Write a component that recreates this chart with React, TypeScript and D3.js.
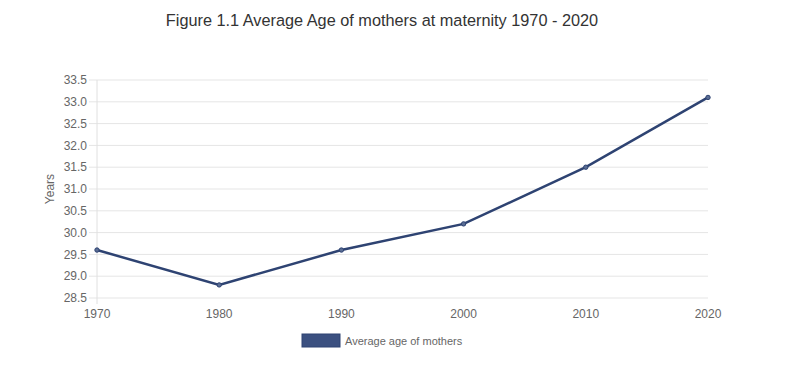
import { useEffect, useRef } from 'react'
import * as d3 from 'd3'

const years = [1970, 1980, 1990, 2000, 2010, 2020]
const avgAge = [29.6, 28.8, 29.6, 30.2, 31.5, 33.1]
const yTicks = [28.5, 29.0, 29.5, 30.0, 30.5, 31.0, 31.5, 32.0, 32.5, 33.0, 33.5]

const title = 'Figure 1.1 Average Age of mothers at maternity 1970 - 2020'
const seriesName = 'Average age of mothers'

export default function App() {
  const svgRef = useRef<SVGSVGElement>(null)
  const width = 800
  const height = 367

  useEffect(() => {
    if (!svgRef.current) return
    const svg = d3.select(svgRef.current)
    svg.selectAll('*').remove()

    const font = 'Arial, "Liberation Sans", sans-serif'
    const left = 97
    const right = 708
    const top = 80
    const bottom = 298
    const lineColor = '#2e4372'

    const x = d3.scalePoint<number>().domain(years).range([left, right])
    const y = d3.scaleLinear().domain([28.5, 33.5]).range([bottom, top])

    // title
    svg.append('text')
      .attr('x', 382).attr('y', 26)
      .attr('text-anchor', 'middle')
      .style('font-family', font)
      .style('font-size', '16.3px')
      .style('fill', '#333')
      .text(title)

    // grid lines
    svg.append('g').selectAll('line')
      .data(yTicks)
      .join('line')
      .attr('x1', left - 8).attr('x2', right)
      .attr('y1', d => y(d)).attr('y2', d => y(d))
      .attr('stroke', '#e5e5e5')
      .attr('stroke-width', 1)

    // left axis line
    svg.append('line')
      .attr('x1', left).attr('x2', left)
      .attr('y1', top).attr('y2', bottom + 6)
      .attr('stroke', '#e0e0e0')

    // y tick labels
    svg.append('g').selectAll('text')
      .data(yTicks)
      .join('text')
      .attr('x', left - 10)
      .attr('y', d => y(d))
      .attr('dy', '0.35em')
      .attr('text-anchor', 'end')
      .style('font-family', font)
      .style('font-size', '12px')
      .style('fill', '#666')
      .text(d => d.toFixed(1))

    // x tick labels
    svg.append('g').selectAll('text')
      .data(years)
      .join('text')
      .attr('x', d => x(d) as number)
      .attr('y', bottom + 20)
      .attr('text-anchor', 'middle')
      .style('font-family', font)
      .style('font-size', '12px')
      .style('fill', '#666')
      .text(d => d)

    // y axis title
    svg.append('text')
      .attr('transform', `translate(54, ${(top + bottom) / 2}) rotate(-90)`)
      .attr('text-anchor', 'middle')
      .style('font-family', font)
      .style('font-size', '12px')
      .style('fill', '#666')
      .text('Years')

    const pts = years.map((yr, i) => [x(yr) as number, y(avgAge[i])] as [number, number])

    svg.append('path')
      .attr('d', d3.line()(pts))
      .attr('fill', 'none')
      .attr('stroke', lineColor)
      .attr('stroke-width', 2.5)

    svg.append('g').selectAll('circle')
      .data(pts)
      .join('circle')
      .attr('cx', d => d[0]).attr('cy', d => d[1])
      .attr('r', 2.2)
      .attr('fill', '#5a6d94')
      .attr('stroke', lineColor)
      .attr('stroke-width', 1)

    // legend
    svg.append('rect')
      .attr('x', 302).attr('y', 334)
      .attr('width', 38).attr('height', 13)
      .attr('fill', '#3b5080')
      .attr('stroke', lineColor)
      .attr('stroke-width', 1)

    svg.append('text')
      .attr('x', 345).attr('y', 341)
      .attr('dy', '0.35em')
      .style('font-family', font)
      .style('font-size', '11px')
      .style('fill', '#666')
      .text(seriesName)
  }, [])

  return (
    <svg
      ref={svgRef}
      width={width}
      height={height}
      style={{ position: 'absolute', left: 0, top: 0, background: '#fff' }}
    />
  )
}
